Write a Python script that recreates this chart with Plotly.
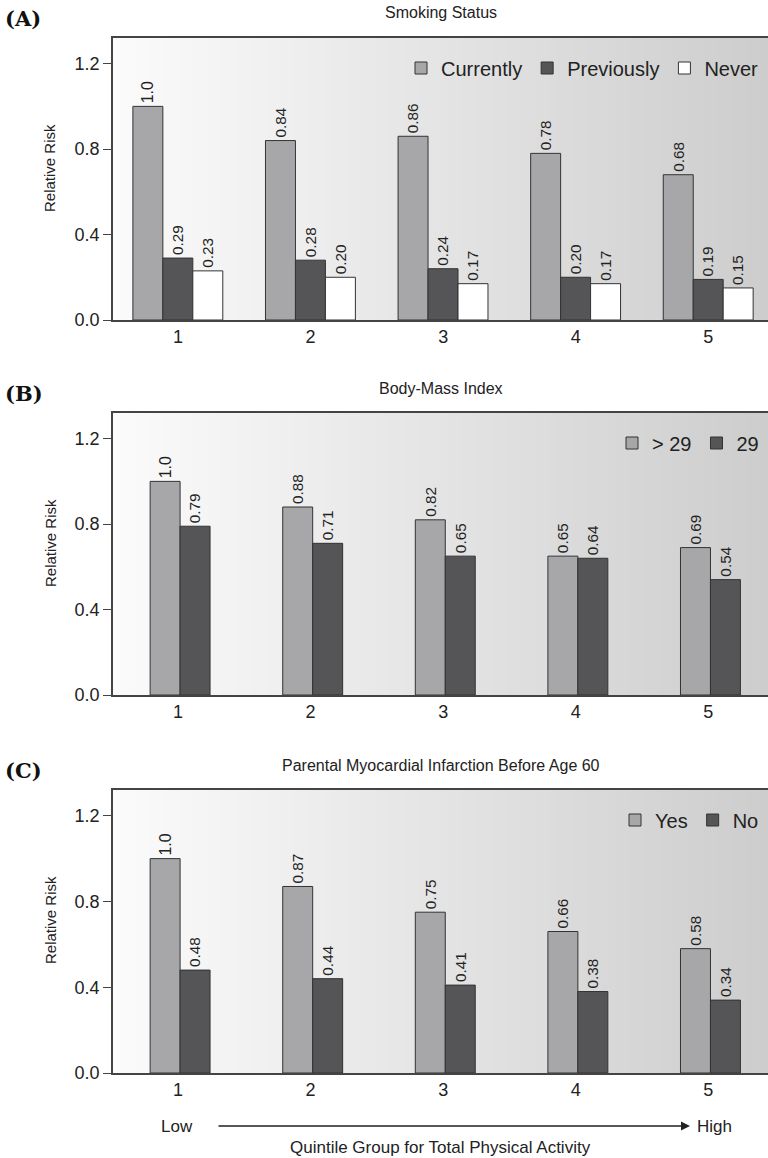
import plotly.graph_objects as go

quintiles = [1, 2, 3, 4, 5]

smoking_current = [1.0, 0.84, 0.86, 0.78, 0.68]
smoking_previous = [0.29, 0.28, 0.24, 0.20, 0.19]
smoking_never = [0.23, 0.20, 0.17, 0.17, 0.15]

bmi_over29 = [1.0, 0.88, 0.82, 0.65, 0.69]
bmi_29 = [0.79, 0.71, 0.65, 0.64, 0.54]

parent_yes = [1.0, 0.87, 0.75, 0.66, 0.58]
parent_no = [0.48, 0.44, 0.41, 0.38, 0.34]

y_ticks = [0.0, 0.4, 0.8, 1.2]

W, H = 768, 1158
FONT = "Liberation Sans"
LIGHT = "#a7a7a9"
DARK = "#555557"
WHITE = "#ffffff"

def lab(v):
    return "1.0" if v == 1.0 else f"{v:.2f}"

fig = go.Figure()

# pixel geometry of panels (top, bottom)
panels = [(38, 320), (413, 695), (790, 1073)]
x_left = 113

def pdom(top, bottom):
    return [1 - bottom / H, 1 - top / H]

BW = 0.226

def add_bar(vals, name, color, offset, idx, legend):
    sfx = "" if idx == 1 else str(idx)
    fig.add_trace(go.Bar(
        x=quintiles, y=vals, name=name,
        marker=dict(color=color, line=dict(color="#333333", width=1)),
        width=BW, offset=offset,
        text=[lab(v) for v in vals], textposition="outside", textangle=-90,
        textfont=dict(family=FONT, size=16, color="#222"),
        cliponaxis=False,
        xaxis="x" + sfx, yaxis="y" + sfx, legend=legend,
    ))

add_bar(smoking_current, "Currently", LIGHT, -0.34, 1, "legend")
add_bar(smoking_previous, "Previously", DARK, -0.34 + BW, 1, "legend")
add_bar(smoking_never, "Never", WHITE, -0.34 + 2 * BW, 1, "legend")
add_bar(bmi_over29, "> 29", LIGHT, -0.21, 2, "legend2")
add_bar(bmi_29, "29", DARK, -0.21 + BW, 2, "legend2")
add_bar(parent_yes, "Yes", LIGHT, -0.21, 3, "legend3")
add_bar(parent_no, "No", DARK, -0.21 + BW, 3, "legend3")

layout = dict(
    width=W, height=H,
    margin=dict(l=0, r=0, t=0, b=0),
    paper_bgcolor="white", plot_bgcolor="rgba(0,0,0,0)",
    font=dict(family=FONT, size=16, color="#222"),
    barmode="group",
    showlegend=True,
    shapes=[], annotations=[],
)

titles = ["Smoking Status", "Body-Mass Index", "Parental Myocardial Infarction Before Age 60"]
letters = ["(A)", "(B)", "(C)"]

for i, (top, bottom) in enumerate(panels, start=1):
    sfx = "" if i == 1 else str(i)
    dom = pdom(top, bottom)
    layout["xaxis" + sfx] = dict(
        domain=[x_left / W, 1], range=[0.51, 5.45], anchor="y" + sfx,
        tickvals=quintiles, ticks="", showline=True, mirror=True,
        linecolor="#444", linewidth=1.5, showgrid=False, zeroline=False,
        tickfont=dict(size=18), automargin=False,
    )
    layout["yaxis" + sfx] = dict(
        domain=dom, range=[0, 1.32], anchor="x" + sfx,
        tickvals=y_ticks, ticktext=[f"{t:.1f}" for t in y_ticks],
        ticks="outside", ticklen=8, tickcolor="#444",
        showline=True, linecolor="#444", linewidth=1.5, showgrid=False, zeroline=False,
        tickfont=dict(size=18), automargin=False,
    )
    # gradient background strips
    n = 90
    for k in range(n):
        t = k / (n - 1)
        g = int(round(251 - t * (251 - 205)))
        layout["shapes"].append(dict(
            type="rect", xref="x" + sfx + " domain", yref="y" + sfx + " domain",
            x0=k / n, x1=(k + 1) / n + 0.002, y0=0, y1=1,
            fillcolor=f"rgb({g},{g},{g})", line=dict(width=0), layer="below",
        ))
    layout["annotations"].append(dict(
        text=titles[i - 1], xref="paper", yref="paper",
        x=(x_left / W + 1) / 2, y=1 - (top - 25) / H,
        xanchor="center", yanchor="middle",
        showarrow=False, font=dict(size=16),
    ))
    layout["annotations"].append(dict(
        text="<b>" + letters[i - 1] + "</b>", xref="paper", yref="paper",
        x=3 / W, y=1 - (top - 20) / H, xanchor="left", yanchor="middle",
        showarrow=False, font=dict(family="DejaVu Serif", size=21, color="#111"),
    ))
    layout["annotations"].append(dict(
        text="Relative Risk", xref="paper", yref="paper", textangle=-90,
        x=50 / W, y=1 - (top + 130) / H, xanchor="center", yanchor="middle",
        showarrow=False, font=dict(size=15),
    ))

legend_pos = {
    "legend": (1 - 68 / H),
    "legend2": (1 - 443 / H),
    "legend3": (1 - 820 / H),
}
for lg, yv in legend_pos.items():
    layout[lg] = dict(
        orientation="h", x=764 / W, xanchor="right", y=yv, yanchor="middle",
        bgcolor="rgba(0,0,0,0)", font=dict(size=20),
        tracegroupgap=0,
    )

# bottom annotations: Low -> High arrow
layout["annotations"] += [
    dict(text="Low", xref="paper", yref="paper", x=177 / W, y=1 - 1126 / H,
         xanchor="center", yanchor="middle",
         showarrow=False, font=dict(size=17)),
    dict(text="High", xref="paper", yref="paper", x=714 / W, y=1 - 1126 / H,
         xanchor="center", yanchor="middle",
         showarrow=False, font=dict(size=17)),
    dict(text="", xref="paper", yref="paper", x=690 / W, y=1 - 1126 / H,
         ax=-473, ay=0, showarrow=True, arrowhead=2, arrowsize=1.2,
         arrowwidth=1.5, arrowcolor="#222"),
    dict(text="Quintile Group for Total Physical Activity", xref="paper", yref="paper",
         x=440 / W, y=1 - 1147 / H, xanchor="center", yanchor="middle",
         showarrow=False, font=dict(size=17)),
]

fig.update_layout(**layout)
fig.write_html("out.html", config={"displayModeBar": False},
               post_script="document.body.style.margin='0px';")
